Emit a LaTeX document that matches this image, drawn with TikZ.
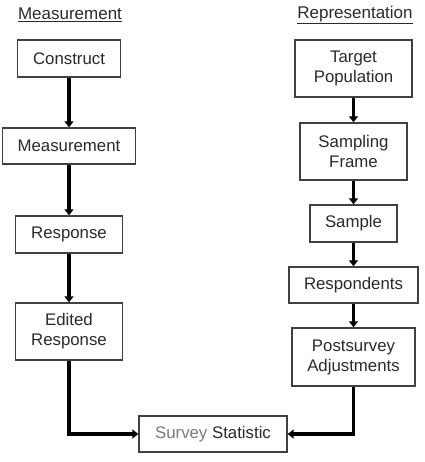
\documentclass[tikz,border=0pt]{standalone}
\usepackage{fontspec}
\setmainfont{Liberation Sans}
\usetikzlibrary{arrows.meta}
\definecolor{txt}{HTML}{2A2A2A}
\definecolor{boxline}{HTML}{404040}
\definecolor{lighttxt}{HTML}{7A7A7A}
\begin{document}
\begin{tikzpicture}[x=1pt,y=-1pt,
  box/.style={draw=boxline,line width=1.4pt,fill=white,inner sep=0pt,align=center,
    text=txt,font=\fontsize{16.8}{20}\selectfont},
  title/.style={text=txt,font=\fontsize{17}{20}\selectfont,inner sep=0pt},
  flow/.style={line width=3.4pt,black,-{Triangle[width=9pt,length=6pt]}}]
\useasboundingbox (0,0) rectangle (424,462);
\node[title] (tm) at (70,15) {\underline{Measurement}};
\node[title] (tr) at (355,15) {\underline{Representation}};

\node[box,minimum width=103pt,minimum height=37pt] (construct) at (69,58.5) {Construct};
\node[box,minimum width=133pt,minimum height=36pt] (meas) at (69,146) {Measurement};
\node[box,minimum width=107pt,minimum height=37pt] (resp) at (69,234.5) {Response};
\node[box,minimum width=107pt,minimum height=57pt] (edit) at (69,331.5) {Edited\\Response};

\node[box,minimum width=117pt,minimum height=57pt] (target) at (353.5,68.5) {Target\\Population};
\node[box,minimum width=107pt,minimum height=57pt] (frame) at (353.5,151.5) {Sampling\\Frame};
\node[box,minimum width=87pt,minimum height=37pt] (sample) at (353.5,223.5) {Sample};
\node[box,minimum width=129pt,minimum height=36pt] (respd) at (353.5,285) {Respondents};
\node[box,minimum width=123pt,minimum height=58pt] (post) at (353.5,357) {Postsurvey\\Adjustments};

\node[box,minimum width=148pt,minimum height=36pt] (stat) at (213,434) {\textcolor{lighttxt}{Survey} Statistic};

\draw[flow] (construct.south) -- (meas.north);
\draw[flow] (meas.south) -- (resp.north);
\draw[flow] (resp.south) -- (edit.north);
\draw[flow] (edit.south) |- (stat.west);

\draw[flow] (target.south) -- (frame.north);
\draw[flow] (frame.south) -- (sample.north);
\draw[flow] (sample.south) -- (respd.north);
\draw[flow] (respd.south) -- (post.north);
\draw[flow] (post.south) |- (stat.east);
\end{tikzpicture}
\end{document}
